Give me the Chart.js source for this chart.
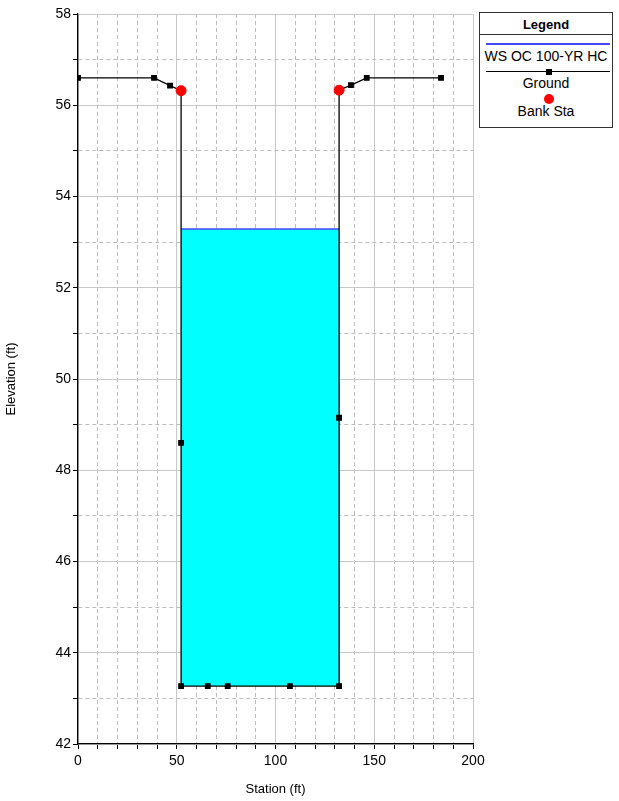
<!DOCTYPE html>
<html>
<head>
<meta charset="utf-8">
<script src="https://cdn.jsdelivr.net/npm/chart.js@4.4.0/dist/chart.umd.min.js"></script>
<style>
  body { margin: 0; background: #fff; font-family: "Liberation Sans", Arial, sans-serif; }
  #wrap { position: relative; width: 619px; height: 801px; }
  #legendBox { position: absolute; left: 479px; top: 12px; width: 132px; height: 114px; border: 1px solid #333; background: #fff; color: #000; }
  .lg { position: absolute; left: 0; right: 0; text-align: center; font-size: 14px; height: 16px; line-height: 16px; }
  .lg-title { font-weight: bold; font-size: 13px; }
</style>
</head>
<body>
<div id="wrap">
  <canvas id="xsChart" width="619" height="801"></canvas>
  <div id="legendBox">
    <div class="lg lg-title" style="top:4px;">Legend</div>
    <div style="position:absolute;left:0;right:0;top:21px;border-top:1px solid #333;"></div>
    <div style="position:absolute;left:6px;right:2px;top:30px;border-top:2px solid #4646ff;"></div>
    <div class="lg" style="top:35px;">WS OC 100-YR HC</div>
    <div style="position:absolute;left:6px;right:2px;top:58px;border-top:1px solid #000;"></div>
    <div style="position:absolute;left:66px;top:56px;width:6px;height:6px;background:#000;"></div>
    <div class="lg" style="top:62px;">Ground</div>
    <div style="position:absolute;left:64px;top:81px;width:10px;height:10px;border-radius:50%;background:#ff0000;"></div>
    <div class="lg" style="top:90px;">Bank Sta</div>
  </div>
</div>
<script>
// ground profile
const groundStation = [0, 38.5, 46.6, 52.2, 52.2, 52.2, 65.7, 75.8, 107.3, 132.2, 132.2, 132.2, 138.2, 146.2, 183.8];
const groundElev = [56.6, 56.6, 56.43, 56.32, 48.6, 43.27, 43.27, 43.27, 43.27, 43.27, 49.15, 56.33, 56.44, 56.6, 56.6];

// bank stations
const bankStation = [52.2, 132.2];
const bankElev = [56.32, 56.33];

// water surface
const wsStation = [52.2, 132.2];
const wsElev = [53.29, 53.29];
const channelBed = 43.27;

const xTickLabels = [0, 50, 100, 150, 200];
const yTickLabels = [42, 44, 46, 48, 50, 52, 54, 56, 58];

const toPts = (xs, ys) => xs.map((x, i) => ({ x: x, y: ys[i] }));

const ctx = document.getElementById('xsChart').getContext('2d');
new Chart(ctx, {
    type: 'scatter',
    data: {
        datasets: [
            {
                label: 'Bank Sta',
                data: toPts(bankStation, bankElev),
                showLine: false,
                pointStyle: 'circle',
                pointRadius: 5,
                backgroundColor: '#ff0000',
                borderColor: '#ff0000',
                order: 0
            },
            {
                label: 'Ground',
                data: toPts(groundStation, groundElev),
                showLine: true,
                borderColor: '#000',
                borderWidth: 1.3,
                pointStyle: 'rect',
                pointRadius: 3.2,
                backgroundColor: '#000',
                order: 1
            },
            {
                label: 'WS OC 100-YR HC',
                data: toPts(wsStation, wsElev),
                showLine: true,
                borderColor: '#4646ff',
                borderWidth: 1.5,
                pointRadius: 0,
                backgroundColor: '#00ffff',
                fill: { value: channelBed },
                order: 2
            }
        ]
    },
    options: {
        responsive: false,
        animation: false,
        layout: { padding: { left: 0, right: 146, top: 14, bottom: 0 } },
        plugins: { legend: { display: false }, tooltip: { enabled: false } },
        scales: {
            x: {
                type: 'linear',
                min: 0, max: 200,
                afterFit: s => { s.height = 57; },
                ticks: {
                    stepSize: 10,
                    autoSkip: false,
                    maxRotation: 0,
                    color: '#000',
                    font: { family: 'Liberation Sans', size: 14 },
                    padding: 4,
                    callback: v => xTickLabels.includes(v) ? String(v) : ''
                },
                grid: {
                    color: c => (c.tick && c.tick.value % 50 === 0) ? '#c8c8c8' : '#bdbdbd',
                    lineWidth: 1,
                    tickColor: '#000',
                    tickLength: 5
                },
                border: {
                    color: '#000',
                    width: 1.3,
                    dash: c => (c.tick && c.tick.value % 50 === 0) ? [] : [4, 3]
                },
                title: {
                    display: true,
                    text: 'Station (ft)',
                    color: '#000',
                    font: { family: 'Liberation Sans', size: 13 },
                    padding: { top: 12 }
                }
            },
            y: {
                type: 'linear',
                min: 42, max: 58,
                afterFit: s => { s.width = 78; },
                ticks: {
                    stepSize: 1,
                    autoSkip: false,
                    color: '#000',
                    font: { family: 'Liberation Sans', size: 14 },
                    padding: 2,
                    callback: v => yTickLabels.includes(v) ? String(v) : ''
                },
                grid: {
                    color: c => (c.tick && c.tick.value % 2 === 0) ? '#c8c8c8' : '#bdbdbd',
                    lineWidth: 1,
                    tickColor: '#000',
                    tickLength: 5
                },
                border: {
                    color: '#000',
                    width: 1.3,
                    dash: c => (c.tick && c.tick.value % 2 === 0) ? [] : [4, 3]
                },
                title: {
                    display: true,
                    text: 'Elevation (ft)',
                    color: '#000',
                    font: { family: 'Liberation Sans', size: 13 },
                    padding: { bottom: 0 }
                }
            }
        }
    }
});
</script>
</body>
</html>
